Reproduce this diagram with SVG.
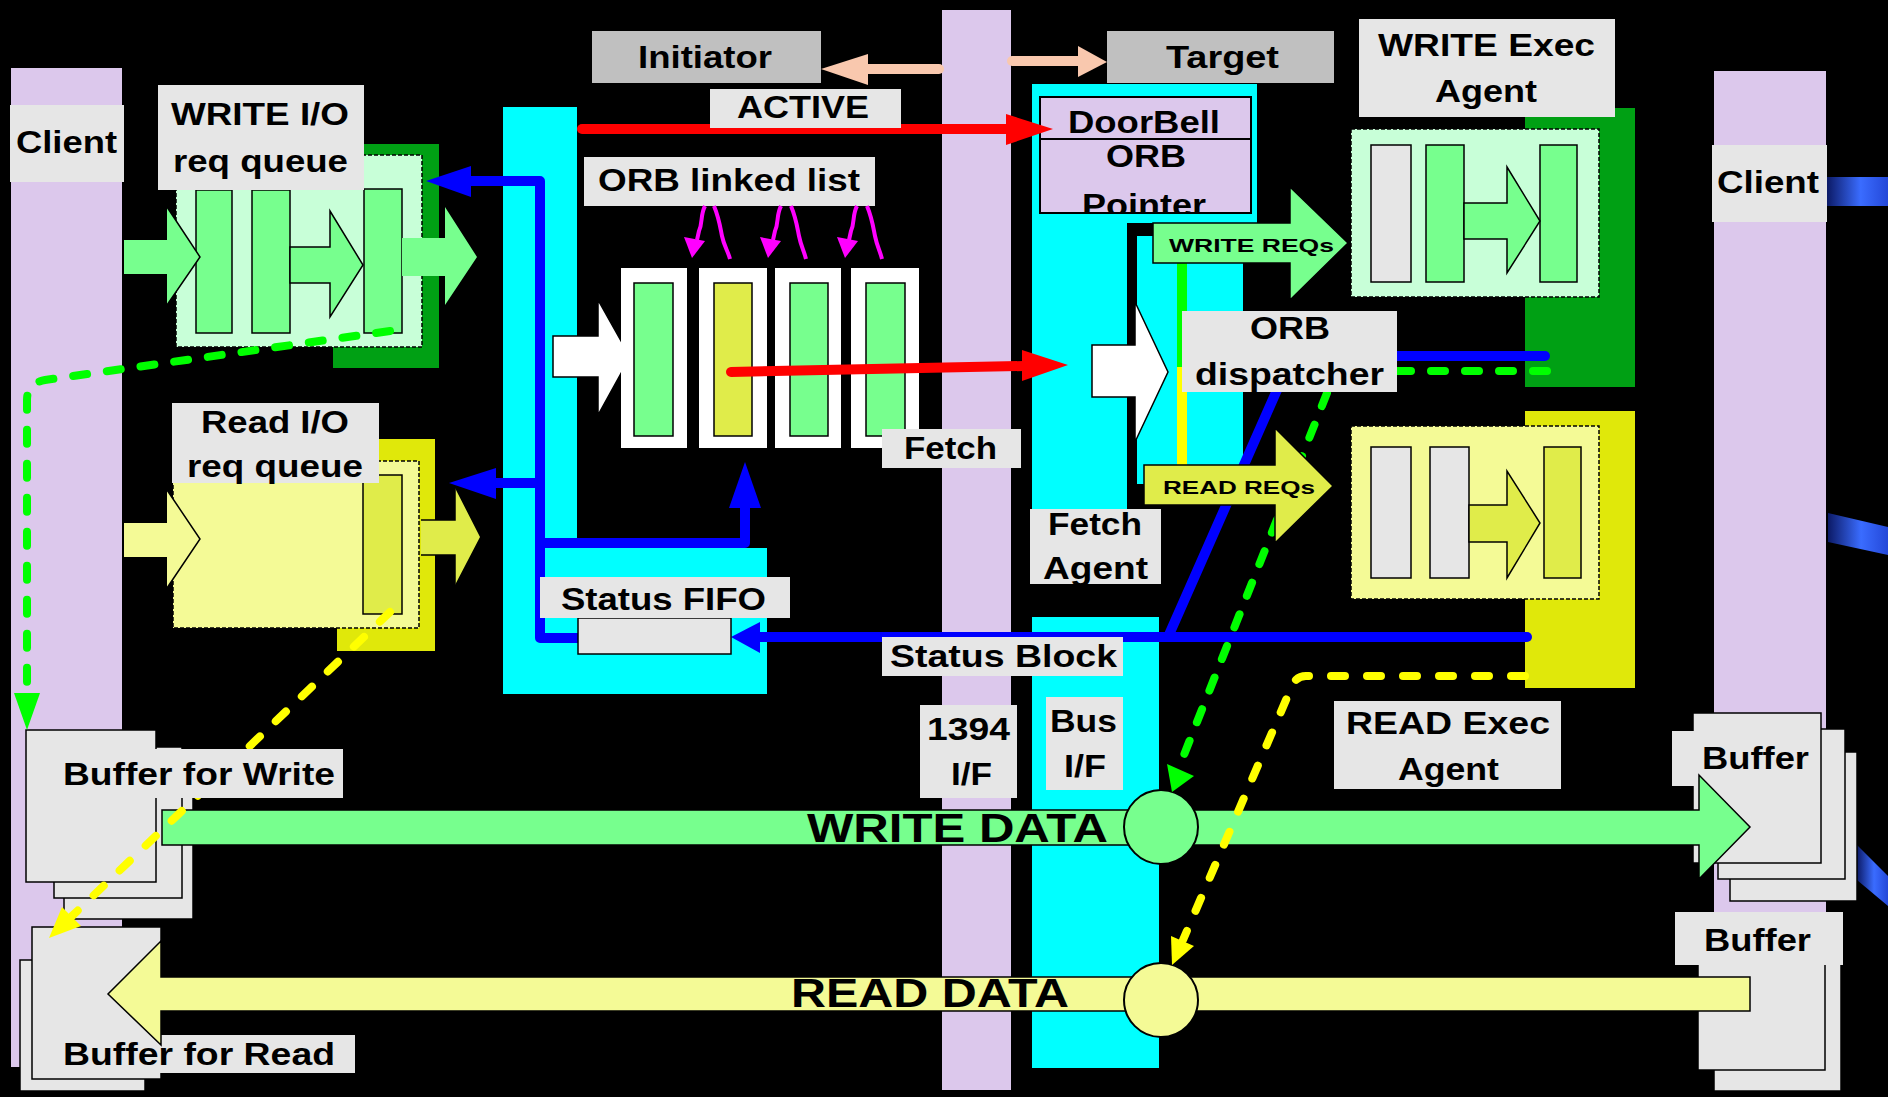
<svg xmlns="http://www.w3.org/2000/svg" width="1888" height="1097" viewBox="0 0 1888 1097">
<defs>
<style>
.t{font-family:"Liberation Sans",Arial,sans-serif;font-weight:bold;font-size:31px;fill:#000}
.s{font-size:19px}
.b{font-size:41px}
.lab{fill:#E6E6E6}
.gl{fill:#C0C0C0}
.lav{fill:#DCC8EC}
.cy{fill:#00FFFF}
.g{fill:#77FF8E;stroke:#000;stroke-width:1.5}
.gn{fill:#77FF8E}
.gy{fill:#E6E6E6;stroke:#000;stroke-width:1.5}
.yg{fill:#E0EC4A;stroke:#000;stroke-width:1.5}
.ly{fill:#F4FA96}
.wh{fill:#FFFFFF;stroke:#000;stroke-width:1.5}
.dash{stroke:#000;stroke-width:1.5;stroke-dasharray:4 2}
.ol{fill:none;stroke:#000;stroke-width:1.5}
.blue{stroke:#0000FF;stroke-width:10;fill:none;stroke-linecap:round;stroke-linejoin:round}
.bh{fill:#0000FF}
.red{stroke:#FF0000;stroke-width:10;fill:none;stroke-linecap:round}
.rh{fill:#FF0000}
.pe{stroke:#F9C8AE;stroke-width:10;fill:none;stroke-linecap:round}
.ph{fill:#F9C8AE}
.gd{stroke:#00FF00;stroke-width:8;fill:none;stroke-dasharray:14 20;stroke-linecap:round;stroke-linejoin:round}
.gdh{fill:#00FF00}
.yd{stroke:#FFFF00;stroke-width:8;fill:none;stroke-dasharray:14 22;stroke-linecap:round;stroke-linejoin:round}
.ydh{fill:#FFFF00}
.mg{stroke:#FF00FF;stroke-width:4;fill:none}
.mh{fill:#FF00FF}
</style>
<linearGradient id="bgr" x1="0" y1="0" x2="1" y2="0">
<stop offset="0" stop-color="#0c1a66"/>
<stop offset="0.55" stop-color="#3a6cff"/>
<stop offset="1" stop-color="#2448d8"/>
</linearGradient>
<clipPath id="cpPtr"><rect x="1040" y="139" width="211" height="73"/></clipPath>
</defs>
<rect width="1888" height="1097" fill="#000"/>

<!-- background bars -->
<g id="bars">
<rect class="lav" x="11" y="68" width="111" height="999"/>
<rect class="lav" x="942" y="10" width="69" height="1080"/>
<rect class="lav" x="1714" y="71" width="112" height="990"/>
<polygon points="1827,177 1888,177 1888,206 1827,206" fill="url(#bgr)"/>
<polygon points="1828,513 1888,527 1888,555 1828,542" fill="url(#bgr)"/>
<polygon points="1857,845 1888,876 1888,906 1857,880" fill="url(#bgr)"/>
<path class="cy" d="M503,107 H577 V548 H767 V694 H503 Z"/>
<path class="cy" d="M1032,84 H1257 V223 H1127 V510 H1032 Z"/>
<rect class="cy" x="1137" y="236" width="106" height="248"/>
<rect class="cy" x="1032" y="617" width="127" height="451"/>
</g>

<g id="client-left">
<rect class="lab" x="10" y="105" width="114" height="77"/>
<text class="t" x="16" y="153" textLength="101" lengthAdjust="spacingAndGlyphs">Client</text>
</g>
<g id="client-right">
<rect class="lab" x="1712" y="145" width="115" height="77"/>
<text class="t" x="1717" y="193" textLength="102" lengthAdjust="spacingAndGlyphs">Client</text>
</g>

<g id="write-queue">
<rect x="333" y="144" width="106" height="224" fill="#00A014"/>
<rect class="dash" x="176" y="155" width="246" height="192" fill="#C8FFD8"/>
<rect class="g" x="196" y="190" width="36" height="143"/>
<rect class="g" x="252" y="190" width="38" height="143"/>
<rect class="g" x="364" y="189" width="38" height="144"/>
<polygon class="gn" points="124,240 167,240 167,207 200,257 167,305 167,274 124,274"/>
<polyline class="ol" points="167,207 200,257 167,305"/>
<polygon class="g" points="290,247 330,247 330,211 363,265 330,317 330,283 290,283"/>
<polygon class="gn" points="402,238 445,238 445,207 477,257 445,305 445,276 402,276"/>
<rect class="lab" x="158" y="85" width="206" height="105"/>
<text class="t" x="171" y="125" textLength="178" lengthAdjust="spacingAndGlyphs">WRITE I/O</text>
<text class="t" x="173" y="172" textLength="175" lengthAdjust="spacingAndGlyphs">req queue</text>
</g>

<g id="read-queue">
<rect x="337" y="439" width="98" height="212" fill="#E0E80A"/>
<rect class="dash" x="173" y="461" width="246" height="167" fill="#F4FA96"/>
<rect class="yg" x="363" y="475" width="39" height="139"/>
<polygon class="ly" points="124,523 167,523 167,490 200,539 167,588 167,557 124,557"/>
<polyline class="ol" points="167,490 200,539 167,588"/>
<polygon fill="#E0EC4A" points="421,520 455,520 455,488 480,537 455,585 455,555 421,555"/>
<polyline class="ol" points="421,520 455,520 455,488"/>
<polyline class="ol" points="455,585 455,555 421,555"/>
<rect class="lab" x="172" y="403" width="207" height="80"/>
<text class="t" x="201" y="433" textLength="148" lengthAdjust="spacingAndGlyphs">Read I/O</text>
<text class="t" x="187" y="477" textLength="176" lengthAdjust="spacingAndGlyphs">req queue</text>
</g>

<g id="orb-list">
<rect class="lab" x="584" y="157" width="291" height="49"/>
<text class="t" x="598" y="191" textLength="262" lengthAdjust="spacingAndGlyphs">ORB linked list</text>
<polygon class="wh" points="553,336 598,336 598,300 630,357 598,415 598,377 553,377"/>
<rect fill="#FFF" x="621" y="268" width="66" height="180"/>
<rect fill="#FFF" x="699" y="268" width="68" height="180"/>
<rect fill="#FFF" x="775" y="268" width="66" height="180"/>
<rect fill="#FFF" x="851" y="268" width="68" height="180"/>
<rect class="g" x="634" y="283" width="39" height="153"/>
<rect class="yg" x="714" y="283" width="38" height="153"/>
<rect class="g" x="790" y="283" width="38" height="153"/>
<rect class="g" x="866" y="283" width="39" height="153"/>
</g>

<g id="fetch">
<rect class="lab" x="882" y="429" width="139" height="39"/>
<text class="t" x="904" y="459" textLength="93" lengthAdjust="spacingAndGlyphs">Fetch</text>
</g>

<g id="initiator">
<rect class="gl" x="592" y="31" width="229" height="52"/>
<text class="t" x="638" y="68" textLength="134" lengthAdjust="spacingAndGlyphs">Initiator</text>
</g>
<g id="target">
<rect class="gl" x="1107" y="31" width="227" height="52"/>
<text class="t" x="1166" y="68" textLength="113" lengthAdjust="spacingAndGlyphs">Target</text>
</g>

<g id="doorbell">
<rect x="1040" y="97" width="211" height="42" fill="#DCC8EC" stroke="#000" stroke-width="2"/>
<rect x="1040" y="139" width="211" height="74" fill="#DCC8EC" stroke="#000" stroke-width="2"/>
<text class="t" x="1068" y="133" textLength="152" lengthAdjust="spacingAndGlyphs">DoorBell</text>
<text class="t" x="1106" y="167" textLength="80" lengthAdjust="spacingAndGlyphs">ORB</text>
<text class="t" x="1082" y="216" textLength="124" lengthAdjust="spacingAndGlyphs" clip-path="url(#cpPtr)">Pointer</text>
</g>

<g id="fetch-agent">
<line x1="1182" y1="263" x2="1182" y2="367" stroke="#00FF00" stroke-width="10"/>
<line x1="1182" y1="367" x2="1182" y2="465" stroke="#FFFF00" stroke-width="10"/>
<polygon class="wh" points="1092,345 1135,345 1135,302 1168,372 1135,442 1135,397 1092,397"/>
<polygon class="g" points="1153,223 1290,223 1290,187 1348,243 1290,300 1290,263 1153,263"/>
<text class="t s" x="1169" y="252" textLength="165" lengthAdjust="spacingAndGlyphs">WRITE REQs</text>
<rect class="lab" x="1030" y="509" width="131" height="75"/>
<text class="t" x="1048" y="535" textLength="94" lengthAdjust="spacingAndGlyphs">Fetch</text>
<text class="t" x="1043" y="579" textLength="105" lengthAdjust="spacingAndGlyphs">Agent</text>
</g>

<g id="write-exec">
<rect x="1525" y="108" width="110" height="279" fill="#00A014"/>
<rect class="dash" x="1351" y="129" width="248" height="168" fill="#C8FFD8"/>
<rect class="gy" x="1371" y="145" width="40" height="137"/>
<rect class="g" x="1426" y="145" width="38" height="137"/>
<rect class="g" x="1540" y="145" width="37" height="137"/>
<polygon class="g" points="1464,203 1507,203 1507,167 1540,221 1507,273 1507,239 1464,239"/>
<rect class="lab" x="1359" y="19" width="256" height="98"/>
<text class="t" x="1378" y="56" textLength="217" lengthAdjust="spacingAndGlyphs">WRITE Exec</text>
<text class="t" x="1435" y="102" textLength="102" lengthAdjust="spacingAndGlyphs">Agent</text>
</g>

<g id="read-exec">
<rect x="1525" y="411" width="110" height="277" fill="#E0E80A"/>
<rect class="dash" x="1351" y="426" width="248" height="173" fill="#F4FA96"/>
<rect class="gy" x="1371" y="447" width="40" height="131"/>
<rect class="gy" x="1430" y="447" width="39" height="131"/>
<rect class="yg" x="1544" y="447" width="37" height="131"/>
<polygon class="yg" points="1469,505 1507,505 1507,471 1540,523 1507,578 1507,542 1469,542"/>
<rect class="lab" x="1334" y="701" width="227" height="88"/>
<text class="t" x="1346" y="734" textLength="204" lengthAdjust="spacingAndGlyphs">READ Exec</text>
<text class="t" x="1398" y="780" textLength="101" lengthAdjust="spacingAndGlyphs">Agent</text>
</g>

<g id="if-1394">
<rect class="lab" x="920" y="705" width="97" height="93"/>
<text class="t" x="927" y="740" textLength="83" lengthAdjust="spacingAndGlyphs">1394</text>
<text class="t" x="951" y="785" textLength="41" lengthAdjust="spacingAndGlyphs">I/F</text>
</g>
<g id="bus-if">
<rect class="lab" x="1046" y="697" width="77" height="93"/>
<text class="t" x="1050" y="732" textLength="67" lengthAdjust="spacingAndGlyphs">Bus</text>
<text class="t" x="1064" y="777" textLength="42" lengthAdjust="spacingAndGlyphs">I/F</text>
</g>

<g id="buffer-write">
<rect class="gy" x="64" y="770" width="129" height="149"/>
<rect class="gy" x="54" y="747" width="128" height="151"/>
<rect class="gy" x="26" y="730" width="130" height="152"/>
</g>
<g id="buffer-read">
<rect class="gy" x="20" y="960" width="125" height="131"/>
<rect class="gy" x="32" y="927" width="129" height="152"/>
<rect class="lab" x="36" y="1035" width="319" height="38"/>
<text class="t" x="63" y="1065" textLength="272" lengthAdjust="spacingAndGlyphs">Buffer for Read</text>
</g>
<g id="buffer-right-write">
<rect class="gy" x="1730" y="752" width="127" height="149"/>
<rect class="gy" x="1718" y="729" width="127" height="150"/>
<rect class="gy" x="1693" y="713" width="128" height="150"/>
<rect class="lab" x="1672" y="731" width="148" height="55"/>
<text class="t" x="1702" y="769" textLength="107" lengthAdjust="spacingAndGlyphs">Buffer</text>
</g>
<g id="buffer-right-read">
<rect class="gy" x="1714" y="930" width="127" height="161"/>
<rect class="gy" x="1698" y="920" width="127" height="150"/>
<rect class="lab" x="1675" y="912" width="168" height="53"/>
<text class="t" x="1704" y="951" textLength="107" lengthAdjust="spacingAndGlyphs">Buffer</text>
</g>

<g id="write-data">
<polygon class="g" points="162,810 1699,810 1699,775 1750,827 1699,879 1699,845 162,845"/>
<text class="t b" x="807" y="842" textLength="301" lengthAdjust="spacingAndGlyphs">WRITE DATA</text>
<circle cx="1161" cy="827" r="37" fill="#77FF8E" stroke="#000" stroke-width="2"/>
</g>
<g id="read-data">
<polygon points="1750,977 161,977 161,941 108,994 161,1045 161,1011 1750,1011" fill="#F4FA96" stroke="#000" stroke-width="1.5"/>
<text class="t b" x="791" y="1007" textLength="278" lengthAdjust="spacingAndGlyphs">READ DATA</text>
<circle cx="1161" cy="1000" r="37" fill="#F4FA96" stroke="#000" stroke-width="2"/>
</g>

<g id="connectors">
<!-- peach -->
<line class="pe" x1="939" y1="69" x2="866" y2="69"/>
<polygon class="ph" points="821,69 868,54 868,85"/>
<line class="pe" x1="1012" y1="61" x2="1080" y2="61"/>
<polygon class="ph" points="1078,46 1107,62 1078,77"/>
<!-- red -->
<line class="red" x1="582" y1="129" x2="1008" y2="129" stroke-linecap="butt"/>
<polygon class="rh" points="1006,114 1053,129 1006,145"/>
<rect class="lab" x="710" y="89" width="191" height="39"/>
<text class="t" x="737" y="118" textLength="132" lengthAdjust="spacingAndGlyphs">ACTIVE</text>
<line class="red" x1="731" y1="372" x2="1024" y2="366"/>
<polygon class="rh" points="1022,350 1068,365 1022,381"/>
<!-- blue -->
<path class="blue" d="M469,181 H540 V638 H579"/>
<polygon class="bh" points="426,181 471,166 471,197"/>
<path class="blue" d="M540,483 H494"/>
<polygon class="bh" points="449,483 496,468 496,499"/>
<path class="blue" d="M540,543 H745 V506"/>
<polygon class="bh" points="745,462 729,508 761,508"/>
<path class="blue" d="M758,637 H1527"/>
<polygon class="bh" points="731,637 760,622 760,653"/>
<path class="blue" d="M1168,637 L1277,390"/>
<path class="blue" d="M1397,356 H1545"/>
<rect class="lab" x="882" y="637" width="241" height="39"/>
<text class="t" x="890" y="667" textLength="227" lengthAdjust="spacingAndGlyphs">Status Block</text>
<!-- magenta -->
<path class="mg" d="M705,206 C700,216 703,222 699,231 L697,240"/>
<polygon class="mh" points="692,258 684,237 705,241"/>
<path class="mg" d="M714,206 C719,218 720,226 722,236 C724,246 728,251 730,259"/>
<path class="mg" d="M781,206 C776,216 779,222 775,231 L773,240"/>
<polygon class="mh" points="768,258 760,237 781,241"/>
<path class="mg" d="M791,206 C796,218 797,226 799,236 C801,246 804,251 806,259"/>
<path class="mg" d="M857,206 C852,216 855,222 851,231 L849,240"/>
<polygon class="mh" points="845,258 837,237 858,241"/>
<path class="mg" d="M867,206 C872,218 873,226 875,236 C877,246 880,251 882,259"/>
<!-- green dashed -->
<path class="gd" d="M390,331 L45,380 Q27,383 27,400 L27,690"/>
<polygon class="gdh" points="27,730 14,693 40,693"/>
<path class="gd" d="M1397,371 H1552"/>
<path class="gd" d="M1327,393 L1180,765"/>
<polygon class="gdh" points="1172,792 1194,776 1167,764"/>
<!-- yellow dashed -->
<path class="yd" d="M390,612 L72,916"/>
<polygon class="ydh" points="49,938 81,926 62,907"/>
<path class="yd" d="M1525,676 H1306 Q1296,676 1292,686 L1183,940"/>
<polygon class="ydh" points="1172,965 1194,946 1171,936"/>
</g>

<g id="buffer-write-label">
<rect class="lab" x="42" y="749" width="301" height="49"/>
<text class="t" x="63" y="785" textLength="272" lengthAdjust="spacingAndGlyphs">Buffer for Write</text>
</g>

<g id="read-reqs">
<polygon class="yg" points="1144,465 1275,465 1275,428 1333,486 1275,543 1275,505 1144,505"/>
<text class="t s" x="1163" y="494" textLength="152" lengthAdjust="spacingAndGlyphs">READ REQs</text>
</g>

<g id="status-fifo">
<rect class="gy" x="578" y="618" width="153" height="36"/>
<rect class="lab" x="540" y="577" width="250" height="41"/>
<text class="t" x="561" y="610" textLength="205" lengthAdjust="spacingAndGlyphs">Status FIFO</text>
</g>

<g id="orb-dispatcher">
<rect class="lab" x="1182" y="311" width="215" height="81"/>
<text class="t" x="1250" y="339" textLength="80" lengthAdjust="spacingAndGlyphs">ORB</text>
<text class="t" x="1195" y="385" textLength="189" lengthAdjust="spacingAndGlyphs">dispatcher</text>
</g>
</svg>
